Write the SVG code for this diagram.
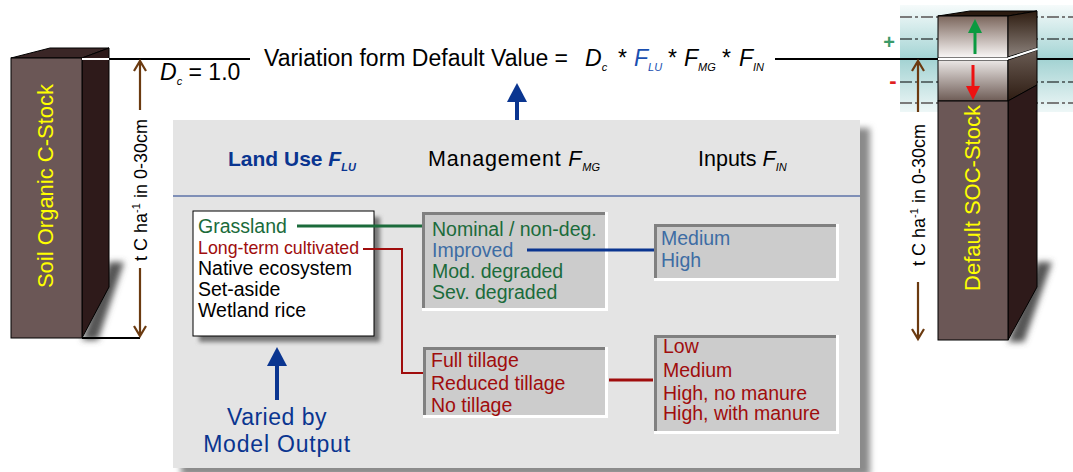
<svg xmlns="http://www.w3.org/2000/svg" width="1073" height="472" viewBox="0 0 1073 472">
  <defs>
    <style>
      text { font-family: "Liberation Sans", Arial, sans-serif; }
      .lbl { font-size: 19.5px; }
      .grn { fill: #1b6b3b; }
      .red { fill: #a00d0d; }
      .stl { fill: #3d6ca4; }
      .blu { fill: #0a3590; }
      .blk { fill: #000; }
      .yel { fill: #ffff00; font-size: 22px; }
      .ax { font-size: 18px; fill: #000; }
      .frm { font-size: 23px; fill: #000; }
      .sub { font-size: 11px; font-style: italic; }
      .hd { font-size: 21.5px; fill: #000; }
      .inset { fill: #cccccc; }
      .edge-dk { stroke: #808080; stroke-width: 3; fill: none; }
      .edge-lt { stroke: #ffffff; stroke-width: 3; fill: none; }
      .brown { stroke: #6b3a10; stroke-width: 2.2; fill: none; }
      .dd-gray { stroke: #7a7a7a; stroke-width: 2; stroke-dasharray: 12 3 3 3; fill: none; }
      .dd-blk { stroke: #000; stroke-width: 1.2; stroke-dasharray: 12 3 3 3; fill: none; }
    </style>
    <filter id="soft" x="-20%" y="-20%" width="140%" height="140%">
      <feGaussianBlur stdDeviation="3"/>
    </filter>
    <filter id="soft2" x="-20%" y="-20%" width="140%" height="140%">
      <feGaussianBlur stdDeviation="2"/>
    </filter>
    <linearGradient id="teal" x1="0" y1="0" x2="0" y2="1">
      <stop offset="0" stop-color="#f6fbfb"/>
      <stop offset="0.45" stop-color="#acd8d8"/>
      <stop offset="0.5" stop-color="#a2d2d2"/>
      <stop offset="1" stop-color="#eef7f7"/>
    </linearGradient>
    <linearGradient id="gainFront" x1="0" y1="0" x2="0" y2="1">
      <stop offset="0" stop-color="#7b665c"/>
      <stop offset="1" stop-color="#fbf9f8"/>
    </linearGradient>
    <linearGradient id="gainSide" x1="0" y1="0" x2="0" y2="1">
      <stop offset="0" stop-color="#2e1c10"/>
      <stop offset="1" stop-color="#8c827c"/>
    </linearGradient>
    <linearGradient id="lossFront" x1="0" y1="0" x2="0" y2="1">
      <stop offset="0" stop-color="#ece8e6"/>
      <stop offset="1" stop-color="#6e5c56"/>
    </linearGradient>
    <linearGradient id="lossSide" x1="0" y1="0" x2="0" y2="1">
      <stop offset="0" stop-color="#6a5c54"/>
      <stop offset="1" stop-color="#2e1c12"/>
    </linearGradient>
  </defs>

  <rect width="1073" height="472" fill="#ffffff"/>

  <!-- left soil column -->
  <g id="soil-column">
    <polygon points="109,262 124,262 98,340 82,340" fill="#555" filter="url(#soft)"/>
    <polygon points="11,58 50,48 109,48 82,58" fill="#3a2626" stroke="#000" stroke-width="1"/>
    <polygon points="82,58 109,48 109,287 82,338" fill="#2e1a1a" stroke="#000" stroke-width="1"/>
    <rect x="11" y="58" width="71" height="280" fill="#6b5756" stroke="#000" stroke-width="1"/>
    <text class="yel" transform="translate(53,186) rotate(-90)" text-anchor="middle">Soil Organic C-Stock</text>
  </g>

  <!-- depth scale, left -->
  <g id="depth-left">
    <line x1="82" y1="59" x2="109" y2="59" stroke="#fff" stroke-width="2"/>
    <line x1="109" y1="59" x2="250" y2="59" stroke="#000" stroke-width="2"/>
    <line x1="82" y1="338" x2="140" y2="338" stroke="#000" stroke-width="2"/>
    <path class="brown" d="M140,61 V110 M134,71 L140,61 L146,71"/>
    <path class="brown" d="M140,268 V336 M134,326 L140,336 L146,326"/>
    <text class="ax" transform="translate(147,190) rotate(-90)" text-anchor="middle">t C ha<tspan font-size="11" dy="-7">-1</tspan><tspan dy="7"> in 0-30cm</tspan></text>
    <text class="frm" x="160" y="80" font-size="22"><tspan font-style="italic">D</tspan><tspan class="sub" dy="5">c</tspan><tspan dy="-5"> = 1.0</tspan></text>
  </g>

  <!-- formula -->
  <g id="formula">
    <text class="frm" x="264" y="66">Variation form Default Value =</text>
    <text class="frm" x="585" y="66"><tspan font-style="italic">D</tspan><tspan class="sub" dy="5">c</tspan></text>
    <text class="frm" x="618" y="66">*</text>
    <text class="frm" x="634" y="66"><tspan font-style="italic" fill="#1a4fb0">F</tspan><tspan class="sub" fill="#1a4fb0" dy="5">LU</tspan></text>
    <text class="frm" x="668" y="66">*</text>
    <text class="frm" x="684" y="66"><tspan font-style="italic">F</tspan><tspan class="sub" dy="5">MG</tspan></text>
    <text class="frm" x="722" y="66">*</text>
    <text class="frm" x="739" y="66"><tspan font-style="italic">F</tspan><tspan class="sub" dy="5">IN</tspan></text>
    <line x1="775" y1="59" x2="1073" y2="59" stroke="#000" stroke-width="2"/>
  </g>

  <!-- right column with gain / loss bands -->
  <g id="default-column">
    <rect x="900" y="5" width="173" height="107" fill="url(#teal)"/>
    <line class="dd-gray" x1="900" y1="17" x2="1073" y2="17"/>
    <line class="dd-gray" x1="900" y1="103" x2="1073" y2="103"/>
    <line class="dd-blk" x1="900" y1="39" x2="1073" y2="39"/>
    <line class="dd-blk" x1="900" y1="82" x2="1073" y2="82"/>
    <line x1="900" y1="59" x2="1073" y2="59" stroke="#000" stroke-width="2"/>
    <text x="889" y="49" text-anchor="middle" font-size="20" font-weight="bold" fill="#3a9a68">+</text>
    <text x="893" y="88" text-anchor="middle" font-size="22" font-weight="bold" fill="#e02020">-</text>
    <polygon points="1037,262 1052,262 1024,342 1008,342" fill="#555" filter="url(#soft)"/>
    <!-- top face -->
    <polygon points="938,16 970,11 1037,11 1008,16" fill="#2a1a10" stroke="#000" stroke-width="1"/>
    <!-- gain block -->
    <rect x="938" y="16" width="70" height="42" fill="url(#gainFront)" stroke="#000" stroke-width="1"/>
    <polygon points="1008,16 1037,11 1037,48 1008,57" fill="url(#gainSide)" stroke="#000" stroke-width="1"/>
    <!-- loss block -->
    <rect x="938" y="60" width="70" height="41" fill="url(#lossFront)" stroke="#000" stroke-width="1"/>
    <polygon points="1008,60 1037,50 1037,85 1008,101" fill="url(#lossSide)" stroke="#000" stroke-width="1"/>
    <!-- default stock -->
    <polygon points="1008,101 1037,85 1037,287 1008,340" fill="#2e1a1a" stroke="#000" stroke-width="1"/>
    <rect x="938" y="101" width="70" height="239" fill="#6b5756" stroke="#000" stroke-width="1"/>
    <line x1="938" y1="59" x2="1008" y2="59" stroke="#fff" stroke-width="2"/>
    <line x1="1008" y1="58.5" x2="1037" y2="49" stroke="#fff" stroke-width="2"/>
    <path d="M975,54 V31" stroke="#0a9a40" stroke-width="3"/>
    <polygon points="975,19 968,33 982,33" fill="#0a9a40"/>
    <path d="M973,65 V88" stroke="#ee1111" stroke-width="3"/>
    <polygon points="973,100 966,86 980,86" fill="#ee1111"/>
    <text class="yel" transform="translate(980,198) rotate(-90)" text-anchor="middle">Default SOC-Stock</text>
  </g>

  <!-- depth scale, right -->
  <g id="depth-right">
    <path class="brown" d="M918,61 V112 M912,71 L918,61 L924,71"/>
    <path class="brown" d="M918,282 V339 M912,329 L918,339 L924,329"/>
    <text class="ax" transform="translate(925,195) rotate(-90)" text-anchor="middle">t C ha<tspan font-size="11" dy="-7">-1</tspan><tspan dy="7"> in 0-30cm</tspan></text>
  </g>

  <!-- factor panel -->
  <g id="factor-panel">
    <rect x="181" y="128" width="689" height="348" fill="#8a8a8a" filter="url(#soft)"/>
    <rect x="173" y="120" width="687" height="348" fill="#e4e4e4"/>
    <line x1="173" y1="196" x2="860" y2="196" stroke="#1a3a8a" stroke-width="1.2"/>
    <text x="228" y="166" font-size="21" font-weight="bold" class="blu">Land Use <tspan font-style="italic">F</tspan><tspan font-size="11" font-style="italic" dy="5">LU</tspan></text>
    <text class="hd" x="428" y="166" letter-spacing="0.8">Management <tspan font-style="italic">F</tspan><tspan class="sub" dy="5" letter-spacing="0">MG</tspan></text>
    <text class="hd" x="698" y="166">Inputs <tspan font-style="italic">F</tspan><tspan class="sub" dy="5">IN</tspan></text>
  </g>

  <!-- land use list -->
  <g id="land-use">
    <rect x="199" y="217" width="181" height="125" fill="#777" filter="url(#soft2)"/>
    <rect x="193" y="211" width="181" height="125" fill="#fff" stroke="#000" stroke-width="1"/>
    <text class="lbl grn" x="198" y="233">Grassland</text>
    <text class="red" x="198" y="254" font-size="17.8">Long-term cultivated</text>
    <text class="lbl blk" x="198" y="275">Native ecosystem</text>
    <text class="lbl blk" x="198" y="296">Set-aside</text>
    <text class="lbl blk" x="198" y="317">Wetland rice</text>
  </g>

  <!-- management: grassland -->
  <g id="mgmt-grassland">
    <rect class="inset" x="422" y="212" width="184" height="98"/>
    <path class="edge-dk" d="M423.5,310 V213.5 H606"/>
    <path class="edge-lt" d="M422,309.5 H606.5 V212"/>
    <text class="lbl grn" x="432" y="236">Nominal / non-deg.</text>
    <text class="lbl stl" x="432" y="257">Improved</text>
    <text class="lbl grn" x="432" y="278">Mod. degraded</text>
    <text class="lbl grn" x="432" y="299">Sev. degraded</text>
  </g>

  <!-- inputs: improved grassland -->
  <g id="inputs-grassland">
    <rect class="inset" x="654" y="224" width="183" height="56"/>
    <path class="edge-dk" d="M655.5,280 V225.5 H837"/>
    <path class="edge-lt" d="M654,279.5 H837.5 V224"/>
    <text class="lbl stl" x="661" y="245">Medium</text>
    <text class="lbl stl" x="661" y="267">High</text>
  </g>

  <!-- management: cultivated -->
  <g id="mgmt-cultivated">
    <rect class="inset" x="423" y="347" width="183" height="70"/>
    <path class="edge-dk" d="M424.5,417 V348.5 H606"/>
    <path class="edge-lt" d="M423,416.5 H606.5 V347"/>
    <text class="lbl red" x="431" y="367">Full tillage</text>
    <text class="lbl red" x="431" y="390">Reduced tillage</text>
    <text class="lbl red" x="431" y="412">No tillage</text>
  </g>

  <!-- inputs: cultivated -->
  <g id="inputs-cultivated">
    <rect class="inset" x="654" y="335" width="183" height="98"/>
    <path class="edge-dk" d="M655.5,433 V336.5 H837"/>
    <path class="edge-lt" d="M654,432.5 H837.5 V335"/>
    <text class="lbl red" x="663" y="353">Low</text>
    <text class="lbl red" x="663" y="377">Medium</text>
    <text class="lbl red" x="663" y="400">High, no manure</text>
    <text class="lbl red" x="663" y="420">High, with manure</text>
  </g>

  <!-- model output note -->
  <g id="model-output">
    <text x="277" y="425" text-anchor="middle" font-size="23" letter-spacing="0.5" class="blu">Varied by</text>
    <text x="277" y="452" text-anchor="middle" font-size="23" letter-spacing="0.8" class="blu">Model Output</text>
  </g>

  <!-- connectors -->
  <g id="connectors" fill="none">
    <path d="M297,226 H422" stroke="#1b6b3b" stroke-width="3"/>
    <path d="M363,249 H402 V373 H423" stroke="#a00d0d" stroke-width="2"/>
    <path d="M527,250 H654" stroke="#0a3590" stroke-width="3"/>
    <path d="M609,380 H653" stroke="#a00d0d" stroke-width="3"/>
    <path d="M517,120 V100" stroke="#0a3590" stroke-width="4"/>
    <polygon points="517,83 507,102 527,102" fill="#0a3590"/>
    <path d="M277,400 V362" stroke="#0a3590" stroke-width="4"/>
    <polygon points="277,347 267,366 287,366" fill="#0a3590"/>
  </g>
</svg>
